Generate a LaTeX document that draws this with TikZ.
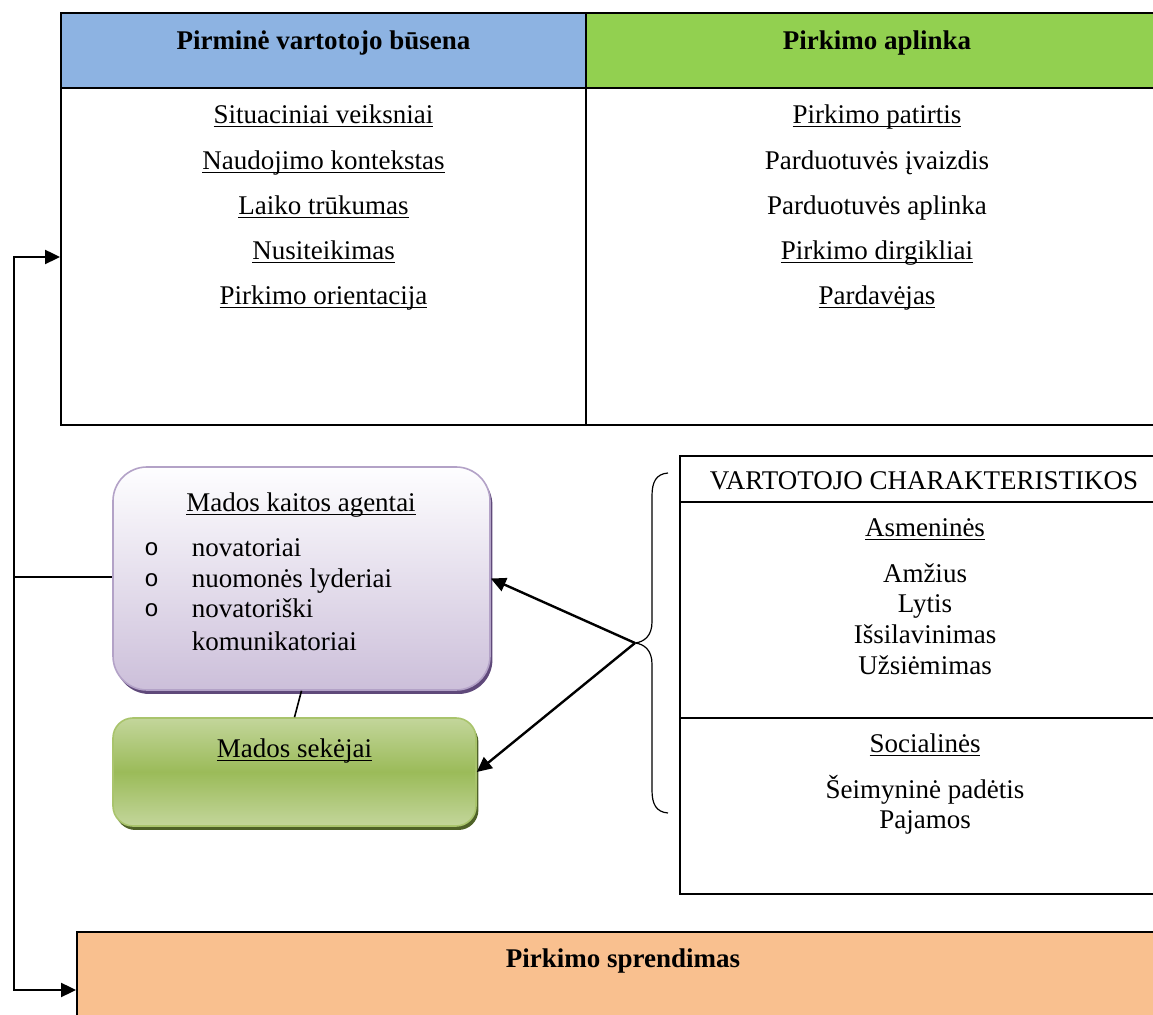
\documentclass[tikz,border=0pt]{standalone}
\usepackage{fontspec}
\setmainfont{Liberation Serif}
\newfontfamily\bulletfont{Liberation Mono}
\usetikzlibrary{arrows.meta,shadows}

\definecolor{hdrblue}{HTML}{8DB3E2}
\definecolor{hdrgreen}{HTML}{92D050}
\definecolor{agenttop}{HTML}{FEFEFF}
\definecolor{agentbot}{HTML}{CCBFDA}
\definecolor{agentedge}{HTML}{B3A2C7}
\definecolor{agentshadow}{HTML}{5F497A}
\definecolor{follight}{HTML}{C3D69B}
\definecolor{folmid}{HTML}{9BBB59}
\definecolor{foledge}{HTML}{A9C46C}
\definecolor{folshadow}{HTML}{4F6228}
\definecolor{decision}{HTML}{F9C08F}

% underline drawn just under the baseline, through descenders
\newcommand\undl[1]{\underline{\smash{#1}}}

\begin{document}
\begin{tikzpicture}[x=0.5pt,y=-0.5pt,
  every node/.style={inner sep=0pt, font=\fontsize{13.5}{16}\selectfont},
  lbl/.style={anchor=base},
  hdr/.style={anchor=base, font=\fontsize{13.5}{16}\selectfont\bfseries},
  frame/.style={draw=black, line width=1pt},
  link/.style={draw=black, line width=1.2pt},
  arrow/.style={link, -{Triangle[length=7.5pt,width=7pt]}},
  bul/.style={anchor=base, font=\fontsize{12}{16}\selectfont\bulletfont},
]
\useasboundingbox (0,0) rectangle (1153,1015);
\clip (0,0) rectangle (1153,1015);

% ---------- top table: consumer state and purchase environment ----------
\fill[hdrblue]  (61,13) rectangle (586,88);
\fill[hdrgreen] (586,13) rectangle (1168,88);
\node[frame, minimum width=553.5pt, minimum height=206pt] (tbl) at (614.5,219) {};
\draw[frame] (tbl.west |- 0,88) -- (tbl.east |- 0,88);
\draw[frame] (586,13) -- (586,425);

\node[hdr] (hstate) at (323.5,50) {Pirminė vartotojo būsena};
\node[hdr] (henv)   at (877,50)   {Pirkimo aplinka};

\node[lbl] (s1) at (323.5,124)   {\undl{Situaciniai veiksniai}};
\node[lbl] (s2) at (323.5,169.5) {\undl{Naudojimo kontekstas}};
\node[lbl] (s3) at (323.5,215)   {\undl{Laiko trūkumas}};
\node[lbl] (s4) at (323.5,260)   {\undl{Nusiteikimas}};
\node[lbl] (s5) at (323.5,305)   {\undl{Pirkimo orientacija}};

\node[lbl] (e1) at (877,124)   {\undl{Pirkimo patirtis}};
\node[lbl] (e2) at (877,169.5) {Parduotuvės įvaizdis};
\node[lbl] (e3) at (877,215)   {Parduotuvės aplinka};
\node[lbl] (e4) at (877,260)   {\undl{Pirkimo dirgikliai}};
\node[lbl] (e5) at (877,305)   {\undl{Pardavėjas}};

% ---------- fashion change agents ----------
\node[draw=agentedge, line width=0.8pt, rounded corners=17pt,
      top color=agenttop, bottom color=agentbot,
      general shadow={fill=agentshadow, shadow xshift=1.2pt, shadow yshift=-2pt},
      minimum width=188.5pt, minimum height=111.5pt] (agents) at (301.5,578.5) {};
\node[lbl] (atitle) at (301,512) {\undl{Mados kaitos agentai}};
\node[bul] (b1) at (151.5,556) {o};
\node[bul] (b2) at (151.5,587) {o};
\node[bul] (b3) at (151.5,617) {o};
\node[anchor=base west] (a1) at (191.5,557)   {novatoriai};
\node[anchor=base west] (a2) at (191.5,588)   {nuomonės lyderiai};
\node[anchor=base west] (a3) at (191.5,618)   {novatoriški};
\node[anchor=base west] (a4) at (191.5,650.5) {komunikatoriai};

% ---------- fashion followers ----------
\node[draw=foledge, line width=0.8pt, rounded corners=10pt,
      top color=follight, bottom color=follight, middle color=folmid,
      general shadow={fill=folshadow, shadow xshift=1.2pt, shadow yshift=-2pt},
      minimum width=181.5pt, minimum height=54pt] (fol) at (294.5,772) {};
\node[lbl] (ftitle) at (294.5,758) {\undl{Mados sekėjai}};

\draw[black, line width=0.8pt] (agents.south) -- (fol.north);

% ---------- consumer characteristics ----------
\node[frame, minimum width=244pt, minimum height=219pt] (chr) at (924,675) {};
\draw[frame] (chr.west |- 0,502) -- (chr.east |- 0,502);
\draw[frame] (chr.west |- 0,718) -- (chr.east |- 0,718);
\node[lbl] (ctitle) at (924,490) {VARTOTOJO CHARAKTERISTIKOS};
\node[lbl] (cp)  at (925,536.5) {\undl{Asmeninės}};
\node[lbl] (cp1) at (925,582.5) {Amžius};
\node[lbl] (cp2) at (925,613)   {Lytis};
\node[lbl] (cp3) at (925,643.5) {Išsilavinimas};
\node[lbl] (cp4) at (925,674.5) {Užsiėmimas};
\node[lbl] (cs)  at (925,753)   {\undl{Socialinės}};
\node[lbl] (cs1) at (925,798.5) {Šeimyninė padėtis};
\node[lbl] (cs2) at (925,829)   {Pajamos};

% brace grouping the characteristics
\coordinate (brtip) at (635,643);
\draw[black, line width=0.6pt]
  (668,473) .. controls (656,474) and (652,482) .. (652,496)
  -- (652,622) .. controls (652,636) and (644,642) .. (brtip)
  .. controls (644,644) and (652,650) .. (652,664)
  -- (652,790) .. controls (652,804) and (656,812) .. (668,813);

\draw[arrow] (brtip) -- (agents.east);
\draw[arrow] (brtip) -- (fol.east);

% ---------- purchase decision ----------
\node[frame, fill=decision, minimum width=546pt, minimum height=60pt] (dec) at (623,992) {};
\node[hdr] (dtitle) at (623,968) {Pirkimo sprendimas};

% ---------- feedback loop on the left ----------
\coordinate (fbtop) at (14,257);
\coordinate (fbmid) at (14,577);
\coordinate (fbbot) at (14,990);
\draw[arrow] (fbbot) -- (fbtop) -- (fbtop -| tbl.west);
\draw[arrow] (fbtop) -- (fbbot) -- (fbbot -| dec.west);
\draw[link] (fbmid) -- (fbmid -| agents.west);
\end{tikzpicture}
\end{document}
